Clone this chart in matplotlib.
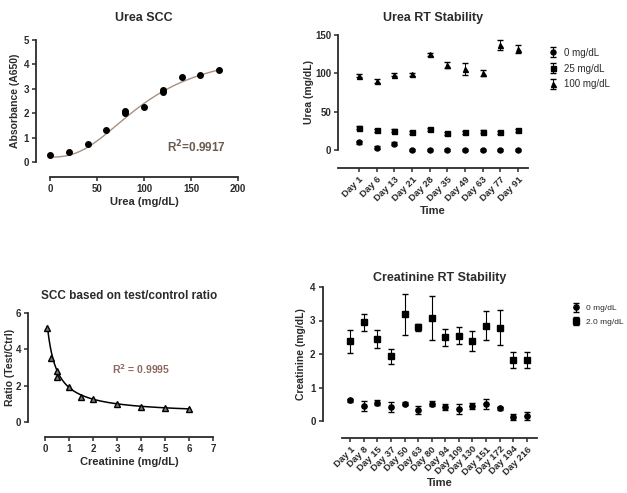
import numpy as np
import matplotlib
matplotlib.use("Agg")
import matplotlib.pyplot as plt

plt.rcParams['font.family'] = ['Liberation Sans', 'DejaVu Sans']
plt.rcParams['font.weight'] = 'bold'
plt.rcParams['axes.labelweight'] = 'bold'
plt.rcParams['axes.linewidth'] = 1.3
plt.rcParams['xtick.major.width'] = 1.1
plt.rcParams['ytick.major.width'] = 1.1
plt.rcParams['xtick.major.size'] = 3
plt.rcParams['ytick.major.size'] = 3
plt.rcParams['xtick.labelsize'] = 7
plt.rcParams['ytick.labelsize'] = 7

INK = '#2b2b2b'

# === Urea standard curve ===
urea_conc = [0, 20, 40, 60, 80, 80, 100, 120, 120, 140, 160, 180]
urea_abs = [0.28, 0.42, 0.75, 1.3, 2.0, 2.1, 2.25, 2.85, 2.95, 3.5, 3.55, 3.77]
# 4PL fit parameters (bottom, top, EC50, hill)
urea_fit = [0.2, 4.6, 100, 2.5]
urea_r2 = "R$^2$=0.9917"

# === Urea RT stability ===
urea_days = ['Day 1', 'Day 6', 'Day 13', 'Day 21', 'Day 28', 'Day 35',
             'Day 49', 'Day 63', 'Day 77', 'Day 91']
urea_0 = [10, 3, 8, 0, 0, 0, 0, 0, 0, 0]
urea_0_err = [2, 2, 2, 1, 1, 1, 1, 1, 1, 1]
urea_25 = [29, 26, 25, 23, 27, 22, 23, 24, 23, 26]
urea_25_err = [2, 2, 2, 2, 2, 2, 2, 2, 2, 2]
urea_100 = [97, 90, 98, 99, 125, 111, 106, 101, 137, 132]
urea_100_err = [2, 2, 2, 2, 2, 4, 8, 4, 7, 5]

# === Creatinine ratio curve ===
crea_conc = [0.1, 0.25, 0.5, 0.5, 1, 1.5, 2, 3, 4, 5, 6]
crea_ratio = [5.2, 3.5, 2.8, 2.5, 1.9, 1.4, 1.25, 1.0, 0.85, 0.78, 0.72]
# hyperbolic fit: c + a / (x + d)
crea_fit = [0.415, 1.934, 0.3]
crea_r2 = "R$^2$ = 0.9995"

# === Creatinine RT stability ===
crea_days = ['Day 1', 'Day 8', 'Day 15', 'Day 37', 'Day 50', 'Day 63', 'Day 80',
             'Day 94', 'Day 109', 'Day 130', 'Day 151', 'Day 172', 'Day 194', 'Day 216']
crea_0 = [0.62, 0.45, 0.55, 0.42, 0.52, 0.32, 0.52, 0.42, 0.35, 0.45, 0.52, 0.38, 0.12, 0.15]
crea_0_err = [0.05, 0.15, 0.08, 0.15, 0.05, 0.12, 0.07, 0.1, 0.15, 0.1, 0.15, 0.05, 0.1, 0.12]
crea_2 = [2.38, 2.95, 2.45, 1.93, 3.18, 2.8, 3.08, 2.5, 2.55, 2.4, 2.85, 2.78, 1.82, 1.82]
crea_2_err = [0.35, 0.25, 0.28, 0.22, 0.6, 0.1, 0.65, 0.25, 0.25, 0.3, 0.42, 0.52, 0.25, 0.25]

W, H = 627, 493
fig = plt.figure(figsize=(W / 100, H / 100), dpi=100)


def px_axes(left, right, top, bottom):
    return fig.add_axes([left / W, 1 - bottom / H, (right - left) / W, (bottom - top) / H])


def prism(ax, xoff, yoff):
    for s in ['top', 'right']:
        ax.spines[s].set_visible(False)
    ax.spines['left'].set_position(('outward', xoff))
    ax.spines['bottom'].set_position(('outward', yoff))
    ax.spines['left'].set_color(INK)
    ax.spines['bottom'].set_color(INK)
    ax.tick_params(colors=INK, pad=2)
    ax.patch.set_alpha(0)


def style_legend(leg):
    for tx in leg.get_texts():
        tx.set_fontweight('normal')
        tx.set_color(INK)


# --- panel 1 ---
ax1 = px_axes(50, 238, 40, 162)
prism(ax1, 10, 11)
xs = np.linspace(0, 180, 200)
b, t, ec, h = urea_fit
ax1.plot(xs, b + (t - b) * (xs / ec) ** h / (1 + (xs / ec) ** h), color='#a89080', lw=1.0)
ax1.plot(urea_conc, urea_abs, 'o', color='black', ms=4, clip_on=False)
ax1.set_xlim(0, 200)
ax1.set_ylim(0, 5)
ax1.set_xticks([0, 50, 100, 150, 200])
ax1.set_yticks([0, 1, 2, 3, 4, 5])
ax1.set_xlabel('Urea (mg/dL)', fontsize=8, color=INK, labelpad=2)
ax1.set_ylabel('Absorbance (A650)', fontsize=7.5, color=INK, labelpad=3)
ax1.set_title('Urea SCC', fontsize=9, fontweight='bold', color=INK, pad=14)
ax1.text(124, 0.62, urea_r2, fontsize=8.5, color='#6b5a50', ha='left', va='center')

# --- panel 2 ---
ax2 = px_axes(338, 528, 35, 150)
prism(ax2, 0, 13)
xi = np.arange(len(urea_days))
ebkw = dict(color='black', ms=3.6, elinewidth=0.7, capsize=2, clip_on=False)
ax2.errorbar(xi, urea_0, yerr=urea_0_err, fmt='o', label='0 mg/dL', **ebkw)
ax2.errorbar(xi, urea_25, yerr=urea_25_err, fmt='s', label='25 mg/dL', **ebkw)
ax2.errorbar(xi, urea_100, yerr=urea_100_err, fmt='^', label='100 mg/dL', **ebkw)
ax2.set_xlim(-1.18, 9.56)
ax2.set_ylim(0, 150)
ax2.set_xticks(xi)
ax2.set_xticklabels(urea_days, rotation=45, ha='right', rotation_mode='anchor', fontsize=6.8)
ax2.set_yticks([0, 50, 100, 150])
ax2.set_xlabel('Time', fontsize=8, color=INK, labelpad=2)
ax2.set_ylabel('Urea (mg/dL)', fontsize=7.5, color=INK, labelpad=1)
ax2.set_title('Urea RT Stability', fontsize=9, fontweight='bold', color=INK, pad=10)
leg2 = ax2.legend(loc='upper left', bbox_to_anchor=(538 / W, 1 - 39 / H),
                  bbox_transform=fig.transFigure, frameon=False, fontsize=7,
                  handletextpad=0.6, labelspacing=0.6, handlelength=1.2)
style_legend(leg2)

# --- panel 3 ---
ax3 = px_axes(45, 213, 313, 422)
prism(ax3, 12, 11)
c, a, d = crea_fit
xs3 = np.linspace(0.1, 6, 200)
ax3.plot(xs3, c + a / (xs3 + d), color='black', lw=1.1)
ax3.plot(crea_conc, crea_ratio, '^', color='black', ms=4, mfc='#777777', clip_on=False)
ax3.set_xlim(0, 7)
ax3.set_ylim(0, 6)
ax3.set_xticks(range(8))
ax3.set_yticks([0, 2, 4, 6])
ax3.set_xlabel('Creatinine (mg/dL)', fontsize=8, color=INK, labelpad=2)
ax3.set_ylabel('Ratio (Test/Ctrl)', fontsize=7.5, color=INK, labelpad=1)
ax3.set_title('SCC based on test/control ratio', fontsize=8.5, fontweight='bold', color=INK, pad=10)
ax3.text(2.8, 2.9, crea_r2, fontsize=7.5, color='#8a6a60', ha='left', va='center')

# --- panel 4 ---
ax4 = px_axes(342, 537, 287, 421)
prism(ax4, 14, 12)
xj = np.arange(len(crea_days))
ebkw4 = dict(color='black', ms=3.8, elinewidth=0.8, capsize=2.2, clip_on=False)
ax4.errorbar(xj, crea_0, yerr=crea_0_err, fmt='o', label='0 mg/dL', **ebkw4)
ax4.errorbar(xj, crea_2, yerr=crea_2_err, fmt='s', label='2.0 mg/dL', **ebkw4)
ax4.set_xlim(-0.6, 13.75)
ax4.set_ylim(0, 4)
ax4.set_xticks(xj)
ax4.set_xticklabels(crea_days, rotation=45, ha='right', rotation_mode='anchor', fontsize=6.8)
ax4.set_yticks([0, 1, 2, 3, 4])
ax4.set_xlabel('Time', fontsize=8, color=INK, labelpad=1)
ax4.set_ylabel('Creatinine (mg/dL)', fontsize=7.5, color=INK, labelpad=3)
ax4.set_title('Creatinine RT Stability', fontsize=9, fontweight='bold', color=INK, pad=4)
leg4 = ax4.legend(loc='upper left', bbox_to_anchor=(563 / W, 1 - 297 / H),
                  bbox_transform=fig.transFigure, frameon=False, fontsize=6,
                  handletextpad=0.6, labelspacing=0.7, handlelength=1.2)
style_legend(leg4)

fig.savefig('out.png', dpi=100)
